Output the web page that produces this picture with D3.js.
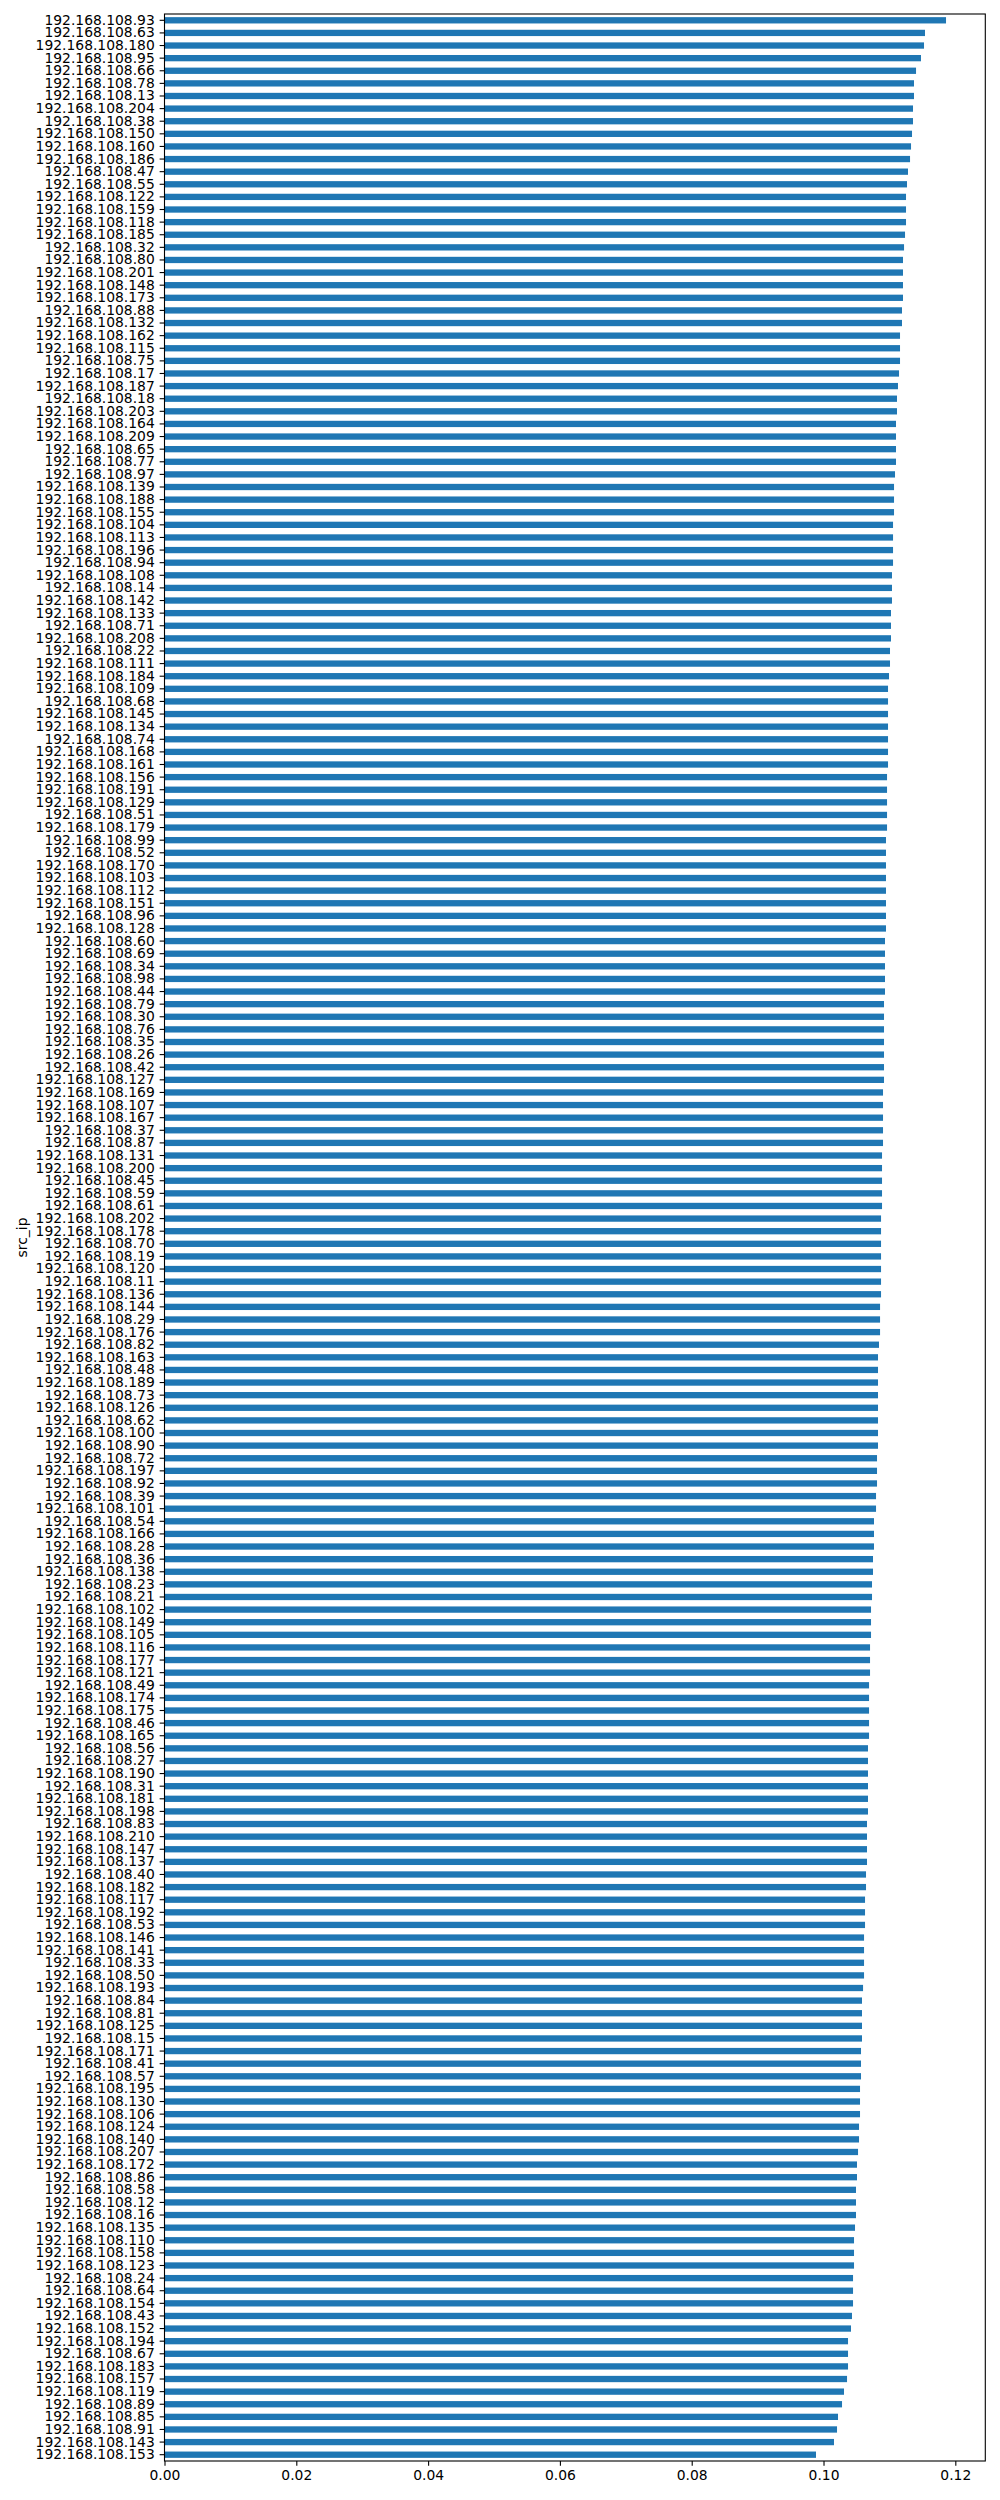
<!DOCTYPE html>
<html>
<head>
<meta charset="utf-8">
<script src="https://cdn.jsdelivr.net/npm/d3@7"></script>
<style>
  html, body { margin: 0; padding: 0; background: #fff; }
  svg { display: block; }
  text { font-family: "DejaVu Sans", sans-serif; fill: #000; }
</style>
</head>
<body>
<svg id="chart" width="1000" height="2500"></svg>
<script>
// Host suffixes (top to bottom), all in 192.168.108.x
const hostSuffixes = [
  93, 63, 180, 95, 66, 78, 13, 204, 38, 150,
  160, 186, 47, 55, 122, 159, 118, 185, 32, 80,
  201, 148, 173, 88, 132, 162, 115, 75, 17, 187,
  18, 203, 164, 209, 65, 77, 97, 139, 188, 155,
  104, 113, 196, 94, 108, 14, 142, 133, 71, 208,
  22, 111, 184, 109, 68, 145, 134, 74, 168, 161,
  156, 191, 129, 51, 179, 99, 52, 170, 103, 112,
  151, 96, 128, 60, 69, 34, 98, 44, 79, 30,
  76, 35, 26, 42, 127, 169, 107, 167, 37, 87,
  131, 200, 45, 59, 61, 202, 178, 70, 19, 120,
  11, 136, 144, 29, 176, 82, 163, 48, 189, 73,
  126, 62, 100, 90, 72, 197, 92, 39, 101, 54,
  166, 28, 36, 138, 23, 21, 102, 149, 105, 116,
  177, 121, 49, 174, 175, 46, 165, 56, 27, 190,
  31, 181, 198, 83, 210, 147, 137, 40, 182, 117,
  192, 53, 146, 141, 33, 50, 193, 84, 81, 125,
  15, 171, 41, 57, 195, 130, 106, 124, 140, 207,
  172, 86, 58, 12, 16, 135, 110, 158, 123, 24,
  64, 154, 43, 152, 194, 67, 183, 157, 119, 89,
  85, 91, 143, 153
];
const categories = hostSuffixes.map(s => "192.168.108." + s);

// Values (same order)
const values = [
  0.11859, 0.11540, 0.11525, 0.11479, 0.11404, 0.11373, 0.11373, 0.11358, 0.11358, 0.11343,
  0.11328, 0.11313, 0.11282, 0.11267, 0.11252, 0.11252, 0.11252, 0.11237, 0.11222, 0.11206,
  0.11206, 0.11206, 0.11206, 0.11191, 0.11191, 0.11161, 0.11161, 0.11161, 0.11146, 0.11130,
  0.11115, 0.11115, 0.11100, 0.11100, 0.11100, 0.11100, 0.11085, 0.11070, 0.11070, 0.11070,
  0.11055, 0.11055, 0.11055, 0.11055, 0.11039, 0.11039, 0.11039, 0.11024, 0.11024, 0.11024,
  0.11009, 0.11009, 0.10994, 0.10979, 0.10979, 0.10979, 0.10979, 0.10979, 0.10979, 0.10979,
  0.10964, 0.10964, 0.10964, 0.10964, 0.10964, 0.10948, 0.10948, 0.10948, 0.10948, 0.10948,
  0.10948, 0.10948, 0.10948, 0.10933, 0.10933, 0.10933, 0.10933, 0.10933, 0.10918, 0.10918,
  0.10918, 0.10918, 0.10918, 0.10918, 0.10918, 0.10903, 0.10903, 0.10903, 0.10903, 0.10903,
  0.10888, 0.10888, 0.10888, 0.10888, 0.10888, 0.10873, 0.10873, 0.10873, 0.10873, 0.10873,
  0.10873, 0.10873, 0.10858, 0.10858, 0.10858, 0.10842, 0.10827, 0.10827, 0.10827, 0.10827,
  0.10827, 0.10827, 0.10827, 0.10827, 0.10812, 0.10812, 0.10812, 0.10797, 0.10797, 0.10766,
  0.10766, 0.10766, 0.10751, 0.10751, 0.10736, 0.10736, 0.10721, 0.10721, 0.10721, 0.10706,
  0.10706, 0.10706, 0.10691, 0.10691, 0.10691, 0.10691, 0.10691, 0.10675, 0.10675, 0.10675,
  0.10675, 0.10675, 0.10675, 0.10660, 0.10660, 0.10660, 0.10660, 0.10645, 0.10645, 0.10630,
  0.10630, 0.10630, 0.10615, 0.10615, 0.10615, 0.10615, 0.10600, 0.10584, 0.10584, 0.10584,
  0.10584, 0.10569, 0.10569, 0.10569, 0.10554, 0.10554, 0.10554, 0.10539, 0.10539, 0.10524,
  0.10508, 0.10508, 0.10493, 0.10493, 0.10493, 0.10478, 0.10463, 0.10463, 0.10463, 0.10448,
  0.10448, 0.10448, 0.10432, 0.10417, 0.10372, 0.10372, 0.10372, 0.10357, 0.10311, 0.10281,
  0.10220, 0.10205, 0.10159, 0.09886
];

const xTickValues = [0.00, 0.02, 0.04, 0.06, 0.08, 0.10, 0.12];
const yAxisTitle = "src_ip";

(function () {
  const data = categories.map((c, i) => ({ ip: c, value: values[i] }));

  const mLeft = 164.5, mRight = 985.3, mTop = 14, mBottom = 2461;
  const svg = d3.select("#chart");

  const x = d3.scaleLinear().domain([0, 0.12455]).range([mLeft, mRight]);
  const y = d3.scaleBand().domain(categories).range([mTop, mBottom])
    .paddingInner(0.5).paddingOuter(0.25);

  // bars
  svg.append("g").selectAll("rect").data(data).join("rect")
    .attr("x", x(0))
    .attr("y", d => y(d.ip))
    .attr("width", d => x(d.value) - x(0))
    .attr("height", y.bandwidth())
    .attr("fill", "#1f77b4");

  const fs = "13.89px";

  // x axis
  const xAxis = svg.append("g").attr("transform", `translate(0,${mBottom})`)
    .call(d3.axisBottom(x).tickValues(xTickValues).tickFormat(d3.format(".2f"))
      .tickSize(4.86).tickPadding(4.5));
  xAxis.select(".domain").remove();
  xAxis.selectAll("line").attr("stroke", "#000").attr("stroke-width", 1.1);
  xAxis.selectAll("text").style("font-size", fs).attr("fill", "#000")
    .style("font-family", "DejaVu Sans, sans-serif");

  // y axis
  const yAxis = svg.append("g").attr("transform", `translate(${mLeft},0)`)
    .call(d3.axisLeft(y).tickSize(4.86).tickPadding(4.9));
  yAxis.select(".domain").remove();
  yAxis.selectAll("line").attr("stroke", "#000").attr("stroke-width", 1.1);
  yAxis.selectAll("text").style("font-size", fs).attr("fill", "#000")
    .style("font-family", "DejaVu Sans, sans-serif");

  // frame
  svg.append("rect")
    .attr("x", mLeft).attr("y", mTop)
    .attr("width", mRight - mLeft).attr("height", mBottom - mTop)
    .attr("fill", "none").attr("stroke", "#000").attr("stroke-width", 1.1);

  // y axis title
  svg.append("text")
    .attr("transform", `translate(${21.7},${(mTop + mBottom) / 2}) rotate(-90)`)
    .attr("text-anchor", "middle")
    .attr("dominant-baseline", "central")
    .style("font-size", fs)
    .text(yAxisTitle);
})();
</script>
</body>
</html>
